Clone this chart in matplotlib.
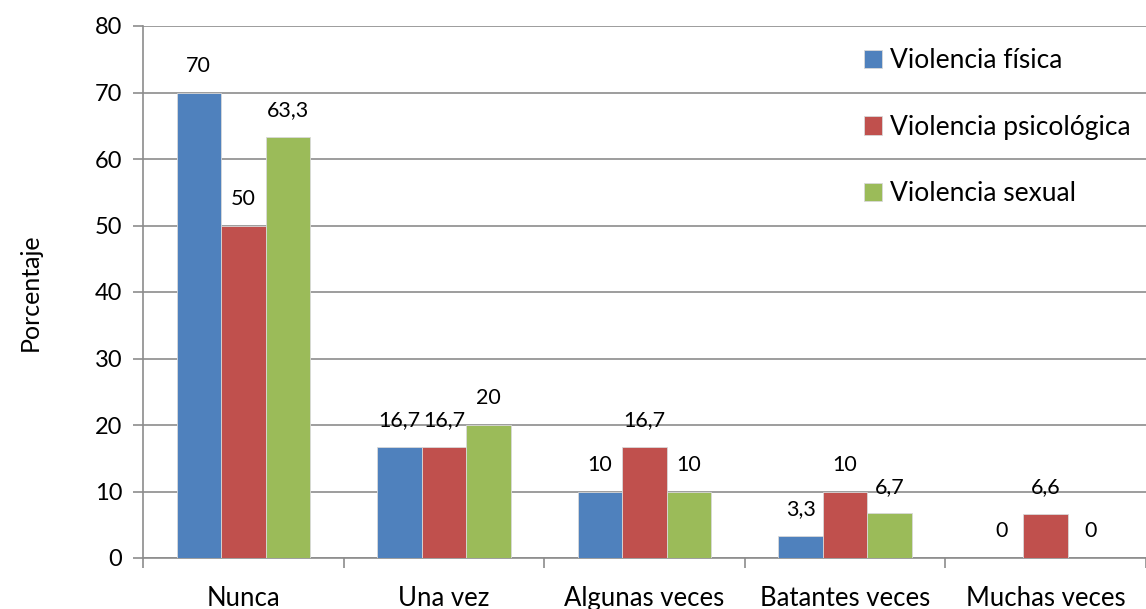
import numpy as np
import matplotlib
matplotlib.use("Agg")
import matplotlib.pyplot as plt

plt.rcParams['font.family'] = ['Lato', 'DejaVu Sans']

categorias = ['Nunca', 'Una vez', 'Algunas veces', 'Batantes veces', 'Muchas veces']
fisica = [70, 16.7, 10, 3.3, 0]
psicologica = [50, 16.7, 16.7, 10, 6.6]
sexual = [63.3, 20, 10, 6.7, 0]
series = ['Violencia física', 'Violencia psicológica', 'Violencia sexual']
colores = ['#4F81BD', '#C0504D', '#9BBB59']

fig = plt.figure(figsize=(11.46, 6.09), dpi=100)
ax = fig.add_axes([143/1146, 1-558/609, 1003/1146, 532/609])

x = np.arange(len(categorias))
w = 0.222
for i, (vals, nombre, col) in enumerate(zip([fisica, psicologica, sexual], series, colores)):
    bars = ax.bar(x + (i-1)*w, vals, w, color=col, label=nombre, edgecolor='#d9d9d9', linewidth=0.6, zorder=3)
    ax.bar_label(bars, labels=[('%g' % v).replace('.', ',') for v in vals], padding=12, fontsize=15.5)

ax.set_xlim(-0.5, len(categorias)-0.5)
ax.set_ylim(0, 80)
ax.set_yticks(range(0, 81, 10))
ax.yaxis.grid(True, color='#8c8c8c', linewidth=1.2, zorder=0)
ax.set_axisbelow(True)

# ticks at category boundaries, labels at centres
ax.set_xticks(np.arange(-0.5, len(categorias), 1))
ax.set_xticklabels([])
ax.set_xticks(x, minor=True)
ax.set_xticklabels(categorias, minor=True, fontsize=18.5)
ax.tick_params(axis='x', which='major', length=7, color='#8c8c8c', width=1.2)
ax.tick_params(axis='x', which='minor', length=0, pad=20)
ax.tick_params(axis='y', length=7, color='#8c8c8c', width=1.2, labelsize=17, pad=8)

for s in ['top', 'right']:
    ax.spines[s].set_visible(False)
for s in ['left', 'bottom']:
    ax.spines[s].set_color('#8c8c8c')
    ax.spines[s].set_linewidth(1.2)

ax.set_ylabel('Porcentaje', fontsize=18, labelpad=38)

ax.legend(loc='upper left', bbox_to_anchor=(864/1146, 1-48/609), bbox_transform=fig.transFigure,
          frameon=False, fontsize=19, handlelength=0.68, handleheight=0.68, handletextpad=0.3,
          labelspacing=1.58, borderpad=0, borderaxespad=0)

fig.savefig('out.png', dpi=100)
